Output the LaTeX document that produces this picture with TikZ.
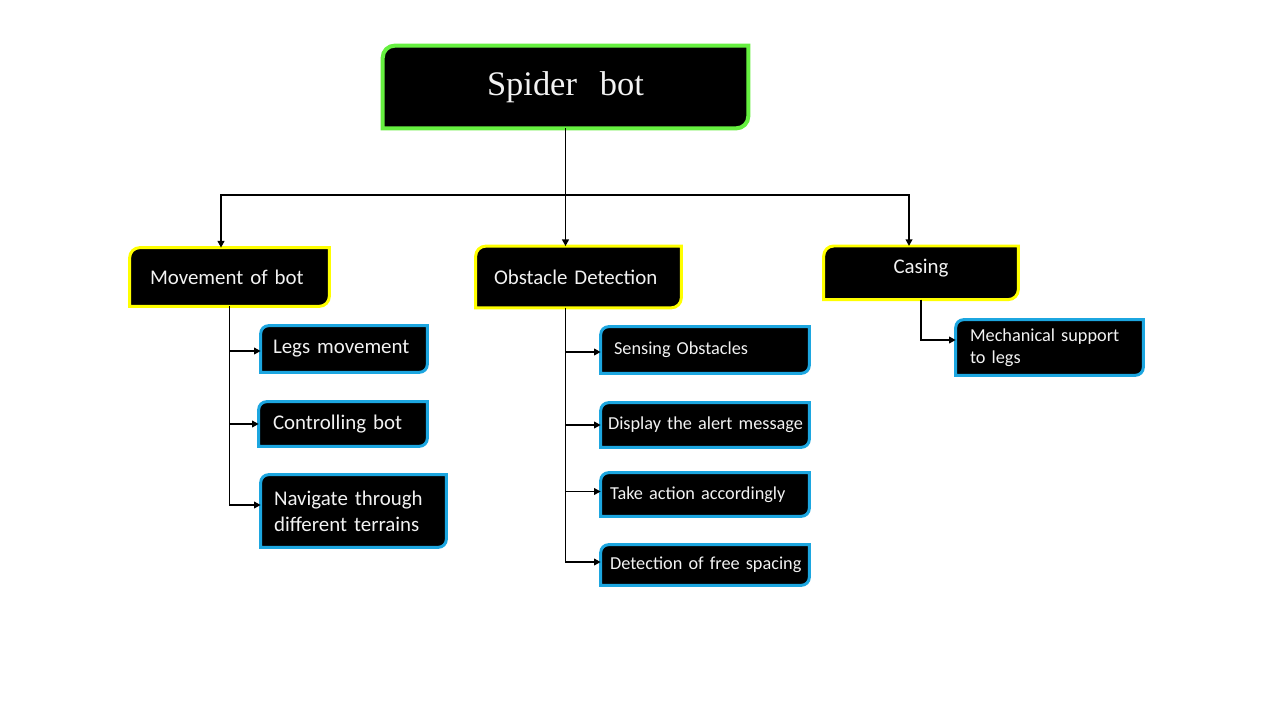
\documentclass[tikz,border=0pt]{standalone}
\usepackage{fontspec}
\setmainfont{Carlito}
\newfontfamily\serifbig{Liberation Serif}
\usetikzlibrary{arrows.meta,backgrounds}
\def\px{0.569pt}
\definecolor{rootgreen}{HTML}{66F040}
\definecolor{lvlyellow}{HTML}{FFFF00}
\definecolor{subblue}{HTML}{1CA6E0}
\definecolor{txt}{HTML}{F2F2F2}
\tikzset{
  bx/.style n args={3}{text width={(#1-2*#3)*\px}, inner xsep={#3*\px}, inner ysep=0pt,
    minimum height={#2*\px}, align=left, text=txt},
  fsub/.style={font=\fontsize{10.4}{12.8}\selectfont},
  fmid/.style={font=\fontsize{11.9}{14.6}\selectfont},
  arr/.style={line width=1.1pt, -{Triangle[length=3.8pt,width=3.8pt]}},
  ln/.style={line width=1.1pt},
}
\begin{document}
\begin{tikzpicture}[x=0.02cm,y=-0.02cm]
\begin{scope}[on background layer]
\fill[white] (0,0) rectangle (1280,720);
\end{scope}
\useasboundingbox (0,0) rectangle (1280,720);

% nodes
\node[bx={365}{82}{10}, align=center, font=\serifbig\fontsize{19.6}{24}\selectfont] (root) at (565.5,87) {Spider\ \ bot};
\node[bx={199}{58}{20}, fmid] (mov) at (229.5,277) {Movement of bot};
\node[bx={205}{61}{18}, fmid] (obs) at (578.5,277) {Obstacle Detection};
\node[bx={194}{0}{10}, align=center, fmid, anchor=north, minimum height=0pt, text height=15.6pt, text depth=14.5pt] (cas) at (921,246) {Casing};

\node[bx={166}{46}{12}, fmid] (legs) at (344,349) {Legs movement};
\node[bx={168}{44}{14}, fmid] (ctrl) at (343,424) {Controlling bot};
\node[bx={185}{72}{13}, fmid] (nav) at (353.5,511) {Navigate through\\different terrains};

\node[bx={208}{46}{13}, fsub] (sense) at (705,350) {Sensing Obstacles};
\node[bx={208}{44}{7}, fsub] (disp) at (705,425) {\mbox{Display the alert message}};
\node[bx={208}{43}{9}, fsub] (take) at (705,494.5) {Take action accordingly};
\node[bx={208}{40}{9}, fsub] (det) at (705,565) {\mbox{Detection of free spacing}};

\node[bx={187}{55}{14}, fsub] (mech) at (1049.5,347.5) {Mechanical support\\to legs};

% box shapes
\begin{scope}[on background layer]
\foreach \n/\c/\r/\w in {root/rootgreen/12/2.3pt, mov/lvlyellow/10/1.7pt, obs/lvlyellow/10/1.7pt,
  cas/lvlyellow/10/1.7pt, legs/subblue/8/1.7pt, ctrl/subblue/8/1.7pt, nav/subblue/8/1.7pt,
  sense/subblue/8/1.7pt, disp/subblue/8/1.7pt, take/subblue/8/1.7pt, det/subblue/8/1.7pt,
  mech/subblue/8/1.7pt}
  \draw[draw=\c, line width=\w, fill=black]
    (\n.south west) -- ([yshift={-\r*\px}]\n.north west)
    arc[start angle=180, end angle=90, radius={\r*\px}]
    -- (\n.north east) -- ([yshift={\r*\px}]\n.south east)
    arc[start angle=0, end angle=-90, radius={\r*\px}] -- cycle;
\end{scope}

% connectors
\coordinate (bus) at (565.5,195);
\draw[ln] (root.south) -- (bus);
\draw[arr] (bus) -- (root.south |- obs.north);
\draw[arr] (bus) -| ([xshift={-8.5*\px}]mov.north);
\draw[arr] (bus) -| ([xshift={-12*\px}]cas.north);

\draw[arr] (mov.south) |- ([yshift={-2*\px}]legs.west);
\draw[arr] (mov.south) |- (ctrl.west);
\draw[arr] (mov.south) |- ([yshift={6*\px}]nav.west);

\coordinate (obsb) at (root.south |- obs.south);
\draw[arr] (obsb) |- ([yshift={-2*\px}]sense.west);
\draw[arr] (obsb) |- (disp.west);
\draw[arr] (obsb) |- ([yshift={3*\px}]take.west);
\draw[arr] (obsb) |- ([yshift={3*\px}]det.west);

\draw[arr] (cas.south) |- ([yshift={7.5*\px}]mech.west);
\end{tikzpicture}
\end{document}
